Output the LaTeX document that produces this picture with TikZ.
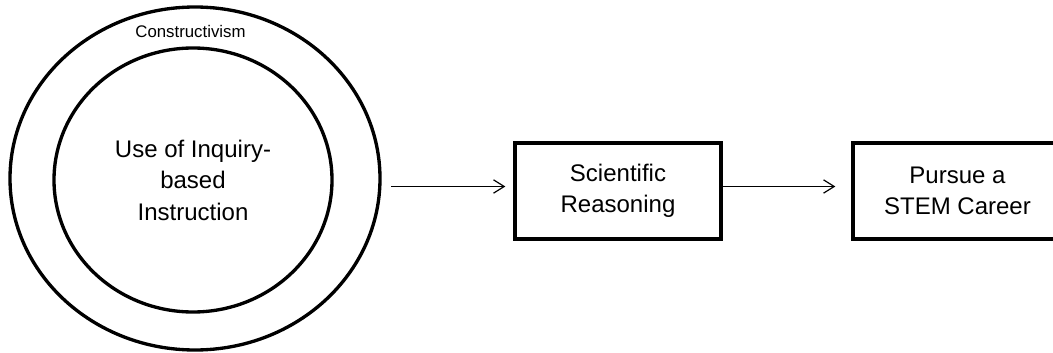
\documentclass[tikz,border=0pt]{standalone}
\usepackage{fontspec}
\setmainfont{Liberation Sans}
\usetikzlibrary{shapes.geometric,arrows.meta}

\begin{document}
\begin{tikzpicture}[x=0.75pt,y=-0.75pt]
        %
        % `ring' is used for the two ellipses.
        % `stage' is used for the boxes on the right.
        % `flow' is used for the arrows.
        \tikzstyle{ring} = [draw,shape=ellipse,line width=2.5pt,inner sep=0pt]
        \tikzstyle{stage} = [draw,line width=2.5pt,align=center,font=\fontsize{18}{23.5}\selectfont]
        \tikzstyle{flow} = [line width=0.9pt,-{Straight Barb[length=8pt,width=10pt]}]
        %
        % Page
        \clip (0,0) rectangle (1053,353);
        \fill[white] (0,0) rectangle (1053,353);
        %
        % Rings
        \node[ring,minimum width=277.5pt,minimum height=257.25pt] (outer) at (195,178.5) {};
        \node at (190.5,38) [anchor=base,font=\fontsize{12.6}{14}\selectfont] (theory) {Constructivism};
        \node[ring,minimum width=208.5pt,minimum height=198pt,align=center,
              font=\fontsize{18}{23.6}\selectfont] (inner) at (193,180)
              {Use of Inquiry-\\based\\Instruction};
        %
        % Boxes
        \node[stage,minimum width=154.5pt,minimum height=72pt] (reason) at (618,191) {Scientific\\Reasoning};
        \node[stage,minimum width=156.75pt,minimum height=72pt] (career) at (957.5,191) {Pursue a\\STEM Career};
        %
        % Arrows
        \coordinate (start) at (391,186.5);
        \draw[flow,shorten >=6pt] (start) -- (start -| reason.west);
        \draw[flow,shorten >=12pt] (reason.east |- start) -- (start -| career.west);
        %
\end{tikzpicture}
\end{document}
